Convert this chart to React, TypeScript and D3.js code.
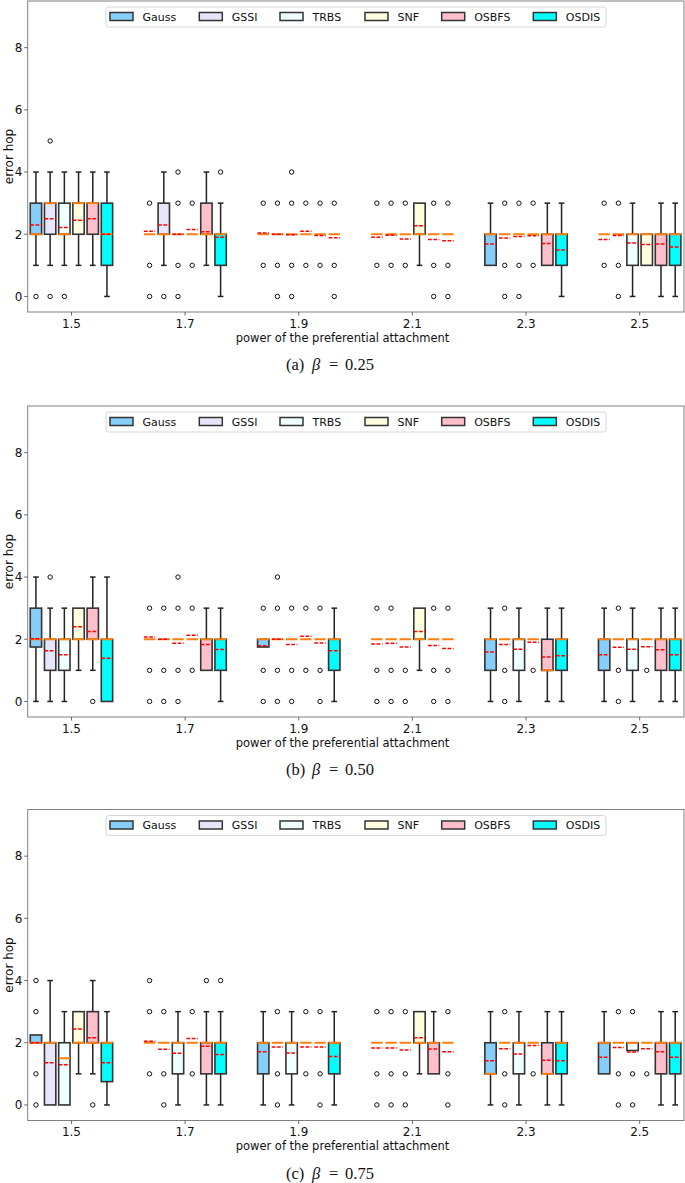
import React from "react";
import * as d3 from "d3";

type Box = [number, number, number, number, number, number, number[]];

const groups = [1.5, 1.7, 1.9, 2.1, 2.3, 2.5];
const groupLabels = ["1.5", "1.7", "1.9", "2.1", "2.3", "2.5"];
const methods = ["Gauss", "GSSI", "TRBS", "SNF", "OSBFS", "OSDIS"];
const methodColors = ["#87CEFA", "#E6E6FA", "#F0FFFF", "#FFFFE0", "#FFC0CB", "#00FFFF"];
const yTicks = [0, 2, 4, 6, 8];
const captions = ["(a)", "(b)", "(c)"];
const betaValues = ["0.25", "0.50", "0.75"];

// [q1, median, q3, whiskerLow, whiskerHigh, mean, outliers] per group, per method
const c = (mean: number, out: number[]): Box => [2, 2, 2, 2, 2, mean, out];

const boxesBeta025: Box[] = [
  [2, 2, 3, 1, 4, 2.3, [0]], [2, 3, 3, 1, 4, 2.5, [5, 0]], [2, 2, 3, 1, 4, 2.22, [0]], [2, 3, 3, 1, 4, 2.45, []], [2, 3, 3, 1, 4, 2.5, []], [1, 2, 3, 0, 4, 2.0, []],
  c(2.1, [3, 1, 0]), [2, 2, 3, 1, 4, 2.3, [0]], c(2.0, [4, 3, 1, 0]), c(2.15, [3, 1]), [2, 2, 3, 1, 4, 2.08, []], [1, 2, 2, 0, 3, 1.9, [4]],
  c(2.04, [3, 1]), c(2.0, [3, 1, 0]), c(1.98, [4, 3, 1, 0]), c(2.1, [3, 1]), c(1.96, [3, 1]), c(1.89, [3, 1, 0]),
  c(1.9, [3, 1]), c(1.97, [3, 1]), c(1.85, [3, 1]), [2, 2, 3, 1, 3, 2.27, []], c(1.83, [3, 1, 0]), c(1.79, [3, 1, 0]),
  [1, 2, 2, 1, 3, 1.69, []], c(1.88, [3, 1, 0]), c(1.93, [3, 1, 0]), c(1.95, [3, 1]), [1, 2, 2, 1, 3, 1.7, []], [1, 2, 2, 0, 3, 1.49, []],
  c(1.83, [3, 1]), c(1.96, [3, 1, 0]), [1, 2, 2, 0, 3, 1.72, []], [1, 2, 2, 1, 2, 1.67, []], [1, 2, 2, 0, 3, 1.69, []], [1, 2, 2, 0, 3, 1.59, []],
];

const boxesBeta050: Box[] = [
  [1.75, 2, 3, 0, 4, 2.02, []], [1, 2, 2, 0, 3, 1.63, [4]], [1, 2, 2, 0, 3, 1.5, []], [2, 2, 3, 1, 3, 2.4, []], [2, 2, 3, 1, 4, 2.25, [0]], [0, 2, 2, 0, 4, 1.39, []],
  c(2.07, [3, 1, 0]), c(2.0, [3, 1, 0]), c(1.87, [4, 3, 1, 0]), c(2.13, [3, 1]), [1, 2, 2, 1, 3, 1.83, []], [1, 2, 2, 0, 3, 1.67, []],
  [1.75, 2, 2, 1.75, 2, 1.79, [3, 1, 0]], c(2.0, [4, 3, 1, 0]), c(1.83, [3, 1, 0]), c(2.1, [3, 1]), c(1.88, [3, 1, 0]), [1, 2, 2, 0, 3, 1.63, []],
  c(1.85, [3, 1, 0]), c(1.87, [3, 1, 0]), c(1.75, [1, 0]), [2, 2, 3, 1, 3, 2.25, []], c(1.8, [3, 1, 0]), c(1.7, [3, 1, 0]),
  [1, 2, 2, 0, 3, 1.59, []], c(1.83, [3, 1, 0]), [1, 2, 2, 0, 3, 1.68, []], c(1.9, [1]), [1, 1, 2, 0, 3, 1.43, []], [1, 2, 2, 0, 3, 1.47, []],
  [1, 2, 2, 0, 3, 1.5, []], c(1.74, [3, 1, 0]), [1, 2, 2, 0, 3, 1.68, []], c(1.76, [1]), [1, 2, 2, 0, 3, 1.66, []], [1, 2, 2, 0, 3, 1.5, []],
];

const boxesBeta075: Box[] = [
  [2, 2, 2.25, 2, 2.25, 2.0, [4, 3, 1, 0]], [0, 2, 2, 0, 4, 1.36, []], [0, 1.5, 2, 0, 3, 1.29, []], [2, 2, 3, 1, 3, 2.44, []], [2, 2, 3, 1, 4, 2.16, [0]], [0.75, 2, 2, 0, 3, 1.36, []],
  c(2.05, [4, 3, 1]), c(1.79, [3, 1, 0]), [1, 2, 2, 0, 3, 1.66, []], c(2.14, [3, 1]), [1, 2, 2, 0, 3, 1.89, [4]], [1, 2, 2, 0, 3, 1.62, [4]],
  [1, 2, 2, 0, 3, 1.71, []], c(1.86, [3, 1, 0]), [1, 2, 2, 0, 3, 1.67, []], c(1.86, [3, 1]), c(1.86, [3, 1, 0]), [1, 2, 2, 0, 3, 1.56, []],
  c(1.83, [3, 1, 0]), c(1.83, [3, 1, 0]), c(1.77, [3, 1, 0]), [2, 2, 3, 1, 3, 2.16, []], [1, 2, 2, 1, 3, 1.8, []], c(1.71, [3, 1, 0]),
  [1, 1, 2, 0, 3, 1.42, []], c(1.81, [3, 1, 0]), [1, 2, 2, 0, 3, 1.64, []], c(1.91, [1]), [1, 1, 2, 0, 3, 1.44, []], [1, 2, 2, 0, 3, 1.42, []],
  [1, 2, 2, 1, 3, 1.53, []], c(1.85, [3, 1, 0]), [1.75, 2, 2, 1.75, 2, 1.7, [3, 1, 0]], c(1.81, [1]), [1, 2, 2, 0, 3, 1.71, []], [1, 2, 2, 0, 3, 1.53, []],
];

const panels = [boxesBeta025, boxesBeta050, boxesBeta075];

const W = 685;
const H = 1183;
const panelOffsets = [0, 405, 808.5];
const FONT = "DejaVu Sans, sans-serif";
const SERIF = "'Liberation Serif', 'DejaVu Serif', serif";

const x = d3.scaleLinear().domain([1.423, 2.578]).range([27.7, 684]);
const BOX_STEP = 0.025;
const BOX_W = 0.02;
const legendX = [110, 199.3, 280, 365, 441.7, 533.3];

function Panel({ data, idx }: { data: Box[]; idx: number }) {
  const off = panelOffsets[idx];
  const y = d3.scaleLinear().domain([-0.5, 9.5]).range([312, 1]);
  const bw = x(BOX_W) - x(0);
  const cw = bw / 2;
  return (
    <g transform={`translate(0,${off})`}>
      <rect x={x.range()[0]} y={1} width={x.range()[1] - x.range()[0]} height={311} fill="white" stroke="none" />
      {data.map((b, k) => {
        const gi = Math.floor(k / 6);
        const mi = k % 6;
        const cx = x(groups[gi] + (mi - 2.5) * BOX_STEP);
        const [q1, med, q3, lo, hi, mean, outs] = b;
        const x0 = cx - bw / 2;
        return (
          <g key={k}>
            <line x1={cx} x2={cx} y1={y(q1)} y2={y(lo)} stroke="#222" strokeWidth={1.5} />
            <line x1={cx} x2={cx} y1={y(q3)} y2={y(hi)} stroke="#222" strokeWidth={1.5} />
            {lo < q1 && <line x1={cx - cw / 2} x2={cx + cw / 2} y1={y(lo)} y2={y(lo)} stroke="#222" strokeWidth={1.5} />}
            {hi > q3 && <line x1={cx - cw / 2} x2={cx + cw / 2} y1={y(hi)} y2={y(hi)} stroke="#222" strokeWidth={1.5} />}
            <rect x={x0} y={y(q3)} width={bw} height={Math.max(0, y(q1) - y(q3))} fill={methodColors[mi]} stroke="#333" strokeWidth={1.6} />
            <line x1={x0} x2={x0 + bw} y1={y(med)} y2={y(med)} stroke="#ff7f0e" strokeWidth={2} />
            <line x1={x0} x2={x0 + bw} y1={y(mean)} y2={y(mean)} stroke="#ff0000" strokeWidth={1.5} strokeDasharray="3.7,1.6" />
            {outs.map((o, j) => (
              <circle key={j} cx={cx} cy={y(o)} r={2.2} fill="none" stroke="#111" strokeWidth={1} />
            ))}
          </g>
        );
      })}
      {/* frame */}
      <rect x={x.range()[0]} y={1} width={x.range()[1] - x.range()[0]} height={311} fill="none" stroke="#808080" strokeWidth={1} />
      {/* y ticks */}
      {yTicks.map((t) => (
        <g key={t}>
          <line x1={x.range()[0] - 3.5} x2={x.range()[0]} y1={y(t)} y2={y(t)} stroke="#444" strokeWidth={0.8} />
          <text x={22.5} y={y(t)} dy="0.36em" textAnchor="end" fontSize={12} fontFamily={FONT} fill="#111">{t}</text>
        </g>
      ))}
      {/* x ticks */}
      {groups.map((g, i) => (
        <g key={g}>
          <line x1={x(g)} x2={x(g)} y1={312} y2={315.5} stroke="#444" strokeWidth={0.8} />
          <text x={x(g)} y={327.5} textAnchor="middle" fontSize={12} fontFamily={FONT} fill="#111">{groupLabels[i]}</text>
        </g>
      ))}
      <text x={342.5} y={341.5} textAnchor="middle" fontSize={11.5} fontFamily={FONT} fill="#111">power of the preferential attachment</text>
      <text transform={`translate(13,156.5) rotate(-90)`} textAnchor="middle" fontSize={12} fontFamily={FONT} fill="#111">error hop</text>
      {/* legend */}
      <rect x={106} y={7} width={500} height={20} rx={2.5} fill="white" fillOpacity={0.85} stroke="#cccccc" strokeWidth={0.8} />
      {methods.map((m, i) => (
        <g key={m}>
          <rect x={legendX[i]} y={12.5} width={23} height={8} fill={methodColors[i]} stroke="#333" strokeWidth={1.5} />
          <text x={legendX[i] + 32.5} y={20.5} fontSize={11} fontFamily={FONT} fill="#111">{m}</text>
        </g>
      ))}
      {/* caption */}
      <g fontFamily={SERIF} fontSize={16.5} fill="#111">
        <text x={286} y={370}>{captions[idx]}</text>
        <text x={312} y={370} fontStyle="italic">β</text>
        <text x={329} y={370}>=</text>
        <text x={345} y={370}>{betaValues[idx]}</text>
      </g>
    </g>
  );
}

export default function App() {
  return (
    <div style={{ position: "absolute", left: 0, top: 0 }}>
      <svg width={W} height={H} style={{ display: "block" }}>
        <rect width={W} height={H} fill="white" />
        {panels.map((p, i) => (
          <Panel key={i} data={p} idx={i} />
        ))}
      </svg>
    </div>
  );
}
